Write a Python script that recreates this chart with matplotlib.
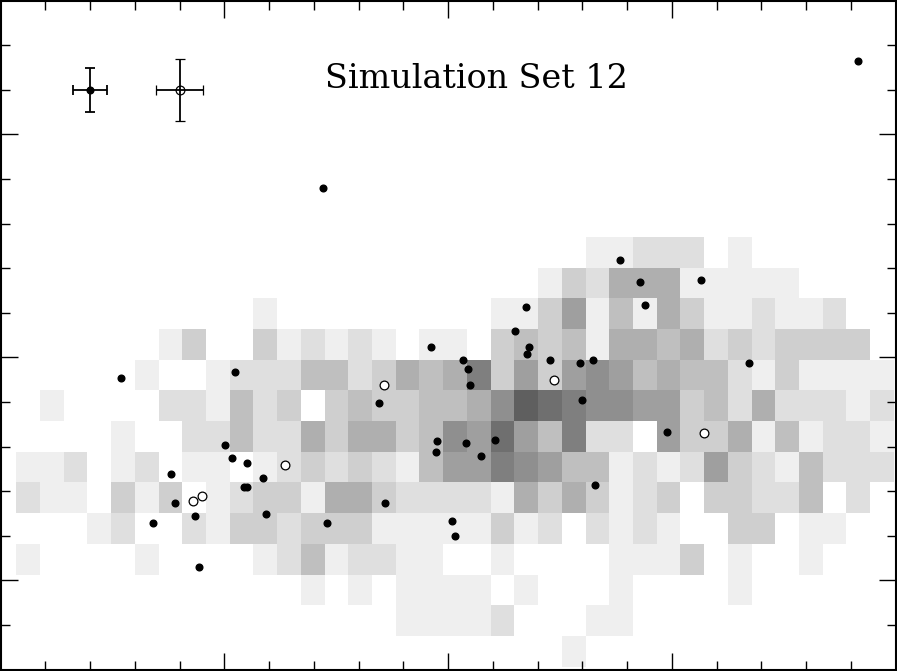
import numpy as np
import matplotlib
matplotlib.use('Agg')
import matplotlib.pyplot as plt

# Simulation Set 12: binned density (grey levels) with individual objects on top

# grey level per cell, rows from top to bottom, 37 columns each
counts = [
  [0,0,0,0,0,0,0,0,0,0, 0,0,0,0,0,0,0,0,0,0, 0,0,0,0,1,1,2,2,2,0, 1,0,0,0,0,0,0],
  [0,0,0,0,0,0,0,0,0,0, 0,0,0,0,0,0,0,0,0,0, 0,0,1,3,2,5,5,5,1,1, 1,1,1,0,0,0,0],
  [0,0,0,0,0,0,0,0,0,0, 1,0,0,0,0,0,0,0,0,0, 1,1,3,6,1,4,1,5,3,1, 1,2,1,1,2,0,0],
  [0,0,0,0,0,0,1,3,0,0, 3,1,2,1,2,1,0,1,1,0, 3,4,3,4,1,5,5,4,5,2, 3,2,3,3,3,3,0],
  [0,0,0,0,0,1,0,0,1,2, 2,2,4,4,2,3,5,4,5,8, 3,6,3,6,7,6,4,5,4,4, 2,1,3,1,1,1,1],
  [0,1,0,0,0,0,2,2,1,4, 2,3,0,3,4,3,3,4,4,5, 7,10,9,8,7,7,6,6,3,4, 2,5,2,2,2,1,2],
  [0,0,0,0,1,0,0,2,2,4, 2,2,5,3,5,5,3,4,7,6, 9,6,4,8,2,2,0,6,3,3, 5,1,4,1,2,2,1],
  [1,1,2,0,1,2,0,1,1,0, 1,2,3,2,3,2,1,4,6,6, 8,7,6,4,4,1,2,1,2,6, 3,2,1,4,2,2,2],
  [2,1,1,0,3,1,3,0,1,2, 3,3,1,5,5,3,2,2,2,2, 1,5,3,5,3,1,2,3,0,3, 3,2,2,4,0,2,0],
  [0,0,0,1,2,0,0,2,1,3, 3,2,3,3,3,1,1,1,1,1, 3,1,2,0,2,1,2,1,0,0, 3,3,0,1,1,0,0],
  [1,0,0,0,0,1,0,0,0,0, 1,2,4,1,2,2,1,1,0,0, 1,0,0,0,0,1,1,1,3,0, 1,0,0,1,0,0,0],
  [0,0,0,0,0,0,0,0,0,0, 0,0,1,0,1,0,1,1,1,1, 0,1,0,0,0,1,0,0,0,0, 1,0,0,0,0,0,0],
  [0,0,0,0,0,0,0,0,0,0, 0,0,0,0,0,0,1,1,1,1, 2,0,0,0,1,1,0,0,0,0, 0,0,0,0,0,0,0],
  [0,0,0,0,0,0,0,0,0,0, 0,0,0,0,0,0,0,0,0,0, 0,0,0,1,0,0,0,0,0,0, 0,0,0,0,0,0,0],
]

# bin layout
x0, dx = 0.353, 0.530
y0, dy = -1.932, 0.688

# filled points
dot_x = [19.162, 7.207, 13.850, 14.291, 15.660, 14.402, 11.743, 11.491, 11.803, 11.759,
         9.613, 10.335, 10.440, 10.492, 12.273, 12.950, 13.247, 16.733, 2.693, 5.247,
         8.451, 12.988, 14.887, 9.754, 9.725, 10.402, 11.044, 10.737, 13.292, 8.592,
         7.303, 10.083, 10.156, 5.017, 5.180, 5.502, 5.873, 5.435, 5.508, 3.803,
         3.906, 4.346, 5.933, 3.401, 4.436]
dot_y = [11.648, 8.800, 7.185, 6.685, 6.736, 6.182, 6.131, 5.586, 5.234, 5.083,
         5.234, 4.935, 4.740, 4.388, 4.935, 4.882, 4.935, 4.882, 4.539, 4.680,
         3.985, 4.038, 3.334, 3.119, 2.872, 3.087, 3.148, 2.789, 2.139, 1.742,
         1.286, 1.338, 0.988, 3.036, 2.738, 2.639, 2.289, 2.087, 2.087, 2.392,
         1.742, 1.437, 1.488, 1.286, 0.293]

# open points
ring_x = [8.570, 12.369, 15.721, 6.358, 4.308, 4.510]
ring_y = [4.388, 4.487, 3.298, 2.587, 1.787, 1.892]

# typical errors shown top left
err_x = [2.0, 4.0]
err_y = [11.0, 11.0]
err_dx = [0.373, 0.525]
err_dy = [0.487, 0.690]

title = 'Simulation Set 12'

fig = plt.figure(figsize=(8.97, 6.71), dpi=100)
ax = fig.add_axes([0.5/897, 1.4/671, 895/897, 668.9/671])

grid = np.array(counts[::-1], dtype=float)
xe = x0 + dx*np.arange(grid.shape[1] + 1)
ye = y0 + dy*np.arange(grid.shape[0] + 1)
shade = 1 - 16*grid/255
ax.pcolormesh(xe, ye, shade, cmap='gray', vmin=0, vmax=1, shading='flat',
              edgecolors='none', antialiased=False, zorder=1)

ax.plot(dot_x, dot_y, 'o', ms=4.8, color='k', mec='k', zorder=3)
ax.plot(ring_x, ring_y, 'o', ms=6.3, mfc='white', mec='k', mew=0.9, zorder=3)

ax.errorbar(err_x[:1], err_y[:1], xerr=err_dx[0], yerr=err_dy[0], fmt='o', ms=4.8,
            color='k', elinewidth=1.3, capsize=3.3, capthick=1.3, zorder=3)
ax.errorbar(err_x[1:], err_y[1:], xerr=err_dx[1], yerr=err_dy[1], fmt='o', ms=6.3,
            mfc='none', mec='k', mew=0.9, color='k', elinewidth=1.3, capsize=3.3,
            capthick=1.3, zorder=3)

ax.text(10.637, 11.04, title, family='DejaVu Serif', fontsize=24, ha='center',
        va='baseline', zorder=4)

ax.set_xlim(0, 20)
ax.set_ylim(-2, 13)
ax.set_xticks([5, 10, 15])
ax.set_yticks([0, 5, 10])
ax.set_xticks(np.arange(1, 20), minor=True)
ax.set_yticks(np.arange(-1, 13), minor=True)
ax.tick_params(which='both', direction='in', top=True, right=True,
               labelbottom=False, labelleft=False, width=1.0)
ax.tick_params(which='major', length=12.5)
ax.tick_params(which='minor', length=6.5)
for s in ax.spines.values():
  s.set_linewidth(1.5)
  s.set_zorder(5)

plt.savefig('out.png', dpi=100)
